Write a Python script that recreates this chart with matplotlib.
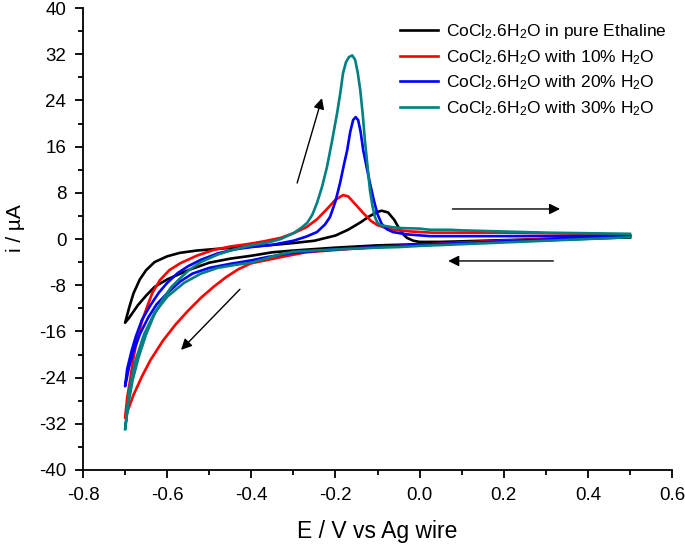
import matplotlib
matplotlib.use("Agg")
import matplotlib.pyplot as plt
from matplotlib.ticker import MultipleLocator

plt.rcParams['font.family'] = ['Liberation Sans', 'DejaVu Sans']
plt.rcParams['mathtext.fontset'] = 'custom'
plt.rcParams['mathtext.rm'] = 'Liberation Sans'
plt.rcParams['mathtext.it'] = 'Liberation Sans:italic'
plt.rcParams['mathtext.bf'] = 'Liberation Sans:bold'
plt.rcParams['axes.unicode_minus'] = False

# ---- data (E in V, i in uA) : cathodic sweep 0.5 -> -0.7 then anodic sweep -0.7 -> 0.5
black_E = [0.5, 0.3, 0.1, 0.0, -0.1, -0.2, -0.3, -0.35, -0.4, -0.45, -0.5, -0.55, -0.6, -0.63, -0.65, -0.67, -0.69, -0.7,
           -0.69, -0.68, -0.665, -0.65, -0.63, -0.6, -0.57, -0.53, -0.48, -0.42, -0.36, -0.3, -0.25, -0.2, -0.17, -0.14,
           -0.12, -0.1, -0.09, -0.075, -0.06, -0.05, -0.04, -0.03, -0.015, 0.0, 0.05, 0.1, 0.2, 0.3, 0.4, 0.5]
black_i = [0.3, -0.2, -0.6, -0.9, -1.1, -1.5, -2.0, -2.3, -2.9, -3.4, -4.1, -5.4, -7.0, -8.3, -9.8, -11.5, -13.6, -14.5,
           -11.8, -9.4, -7.0, -5.4, -4.0, -3.0, -2.4, -2.0, -1.7, -1.4, -1.1, -0.7, -0.3, 0.6, 1.6, 2.9,
           3.9, 4.7, 4.9, 4.6, 3.3, 2.0, 0.9, 0.2, -0.3, -0.5, -0.5, -0.4, -0.2, 0.0, 0.2, 0.3]

red_E = [0.5, 0.3, 0.1, 0.0, -0.1, -0.2, -0.27, -0.32, -0.36, -0.4, -0.43, -0.46, -0.49, -0.52, -0.55, -0.58, -0.61, -0.64, -0.66, -0.68, -0.7,
         -0.695, -0.688, -0.68, -0.672, -0.66, -0.648, -0.635, -0.617, -0.595, -0.569, -0.53, -0.49, -0.45, -0.41, -0.37, -0.33,
         -0.3, -0.27, -0.244, -0.22, -0.2, -0.182, -0.17, -0.155, -0.134, -0.115, -0.1, -0.08, -0.06, -0.02, 0.03, 0.1, 0.2, 0.3, 0.4, 0.5]
red_i = [0.6, 0.0, -0.6, -1.0, -1.4, -1.9, -2.3, -3.0, -3.6, -4.2, -5.2, -6.6, -8.3, -10.2, -12.4, -14.8, -17.6, -21.0, -23.8, -27.0, -31.0,
         -27.5, -24.4, -20.6, -17.5, -14.3, -11.8, -9.3, -7.1, -5.4, -4.2, -2.9, -1.9, -1.3, -0.9, -0.4, 0.2,
         1.0, 2.0, 3.4, 5.2, 6.8, 7.6, 7.4, 6.2, 4.5, 3.1, 2.4, 1.9, 1.6, 1.3, 1.1, 1.1, 1.1, 1.0, 0.9, 0.7]

blue_E = [0.5, 0.3, 0.1, 0.0, -0.1, -0.2, -0.3, -0.36, -0.4, -0.45, -0.5, -0.54, -0.57, -0.6, -0.625, -0.645, -0.665, -0.68, -0.69, -0.7,
          -0.695, -0.685, -0.675, -0.66, -0.64, -0.62, -0.6, -0.575, -0.55, -0.52, -0.48, -0.44, -0.4, -0.35, -0.3, -0.27,
          -0.244, -0.225, -0.213, -0.2, -0.189, -0.18, -0.172, -0.165, -0.158, -0.152, -0.146, -0.14, -0.134, -0.126, -0.118,
          -0.108, -0.1, -0.09, -0.078, -0.063, -0.03, 0.025, 0.1, 0.2, 0.3, 0.4, 0.5]
blue_i = [0.6, -0.1, -0.7, -1.0, -1.4, -1.8, -2.4, -3.1, -3.7, -4.3, -5.0, -6.0, -7.4, -9.4, -11.3, -13.6, -16.5, -19.5, -22.0, -25.5,
          -22.5, -19.5, -17.0, -14.0, -11.5, -9.3, -7.6, -5.9, -4.7, -3.6, -2.5, -1.8, -1.4, -1.0, -0.3, 0.4,
          1.2, 2.5, 3.8, 6.5, 9.7, 12.8, 15.4, 18.5, 20.6, 21.1, 20.6, 18.5, 15.4, 12.5, 9.7,
          6.5, 4.3, 2.6, 1.7, 1.2, 0.8, 0.5, 0.5, 0.5, 0.5, 0.5, 0.6]

teal_E = [0.5, 0.3, 0.1, 0.0, -0.05, -0.1, -0.2, -0.3, -0.34, -0.37, -0.4, -0.44, -0.48, -0.52, -0.56, -0.6, -0.63, -0.655, -0.675, -0.69, -0.7,
          -0.692, -0.682, -0.668, -0.65, -0.63, -0.61, -0.59, -0.569, -0.55, -0.52, -0.48, -0.44, -0.4, -0.36, -0.33, -0.3, -0.28,
          -0.267, -0.255, -0.244, -0.232, -0.22, -0.208, -0.196, -0.188, -0.182, -0.175, -0.168, -0.16, -0.153, -0.147, -0.141,
          -0.135, -0.13, -0.124, -0.118, -0.112, -0.106, -0.1, -0.094, -0.07, -0.046, 0.0, 0.025, 0.073, 0.1, 0.2, 0.3, 0.4, 0.5]
teal_i = [0.3, -0.3, -0.9, -1.2, -1.4, -1.5, -1.8, -2.2, -2.8, -3.5, -4.1, -4.5, -5.0, -6.0, -7.6, -10.0, -12.8, -16.5, -21.0, -26.0, -33.0,
          -28.5, -24.4, -20.5, -16.5, -13.0, -10.4, -8.3, -6.8, -5.5, -4.0, -2.7, -1.8, -1.1, -0.6, 0.0, 1.0, 2.0,
          2.8, 4.2, 6.2, 9.0, 12.5, 17.0, 21.8, 25.5, 28.7, 30.6, 31.5, 31.8, 31.0, 28.8, 25.8,
          21.5, 17.1, 12.8, 8.5, 5.7, 3.8, 2.8, 2.4, 2.1, 1.9, 1.8, 1.6, 1.6, 1.5, 1.3, 1.1, 1.0, 0.9]

labels = [r'CoCl$_2$.6H$_2$O in pure Ethaline',
          r'CoCl$_2$.6H$_2$O with 10% H$_2$O',
          r'CoCl$_2$.6H$_2$O with 20% H$_2$O',
          r'CoCl$_2$.6H$_2$O with 30% H$_2$O']
colors = ['#000000', '#FF0000', '#0000FF', '#008080']

xticks = [-0.8, -0.6, -0.4, -0.2, 0.0, 0.2, 0.4, 0.6]
yticks = [-40, -32, -24, -16, -8, 0, 8, 16, 24, 32, 40]

fig = plt.figure(figsize=(6.85, 5.49), dpi=100)
ax = fig.add_axes([0.1212, 0.1439, 0.8598, 0.8415])

series = [(black_E, black_i), (red_E, red_i), (blue_E, blue_i), (teal_E, teal_i)]
for (E, i), c, lab in zip(series, colors, labels):
    ax.plot(E, i, color=c, lw=1.9, label=lab, solid_joinstyle='round')

ax.set_xlim(-0.8, 0.6)
ax.set_ylim(-40, 40)
ax.set_xticks(xticks)
ax.set_xticklabels([f'{v:.1f}' for v in xticks])
ax.set_yticks(yticks)
ax.set_yticklabels([str(v) for v in yticks])
ax.xaxis.set_minor_locator(MultipleLocator(0.1))
ax.yaxis.set_minor_locator(MultipleLocator(4))
for s in ['top', 'right']:
    ax.spines[s].set_visible(False)
for s in ['left', 'bottom']:
    ax.spines[s].set_linewidth(1.3)
ax.tick_params(which='major', direction='out', length=6, width=1.3, labelsize=13.5, pad=6)
ax.tick_params(which='minor', direction='out', length=3.5, width=1.3)

ax.set_xlabel('E / V vs Ag wire', fontsize=16.5, labelpad=12)
ax.set_ylabel('i / µA', fontsize=15)
ax.yaxis.set_label_coords(-0.099, 0.524)

arrow = dict(arrowstyle='-|>', color='black', lw=1.0, mutation_scale=16, shrinkA=0, shrinkB=0)
ax.annotate('', xy=(-0.232, 24.4), xytext=(-0.291, 9.7), arrowprops=arrow)
ax.annotate('', xy=(0.334, 5.2), xytext=(0.078, 5.2), arrowprops=arrow)
ax.annotate('', xy=(0.068, -3.8), xytext=(0.318, -3.8), arrowprops=arrow)
ax.annotate('', xy=(-0.567, -19.2), xytext=(-0.427, -8.7), arrowprops=arrow)

ax.legend(loc='upper left', bbox_to_anchor=(0.584, 0.96), bbox_transform=fig.transFigure,
          frameon=False, fontsize=12.5, handlelength=2.2, handletextpad=0.45,
          labelspacing=0.4, borderpad=0, borderaxespad=0)

fig.savefig('out.png', dpi=100)
